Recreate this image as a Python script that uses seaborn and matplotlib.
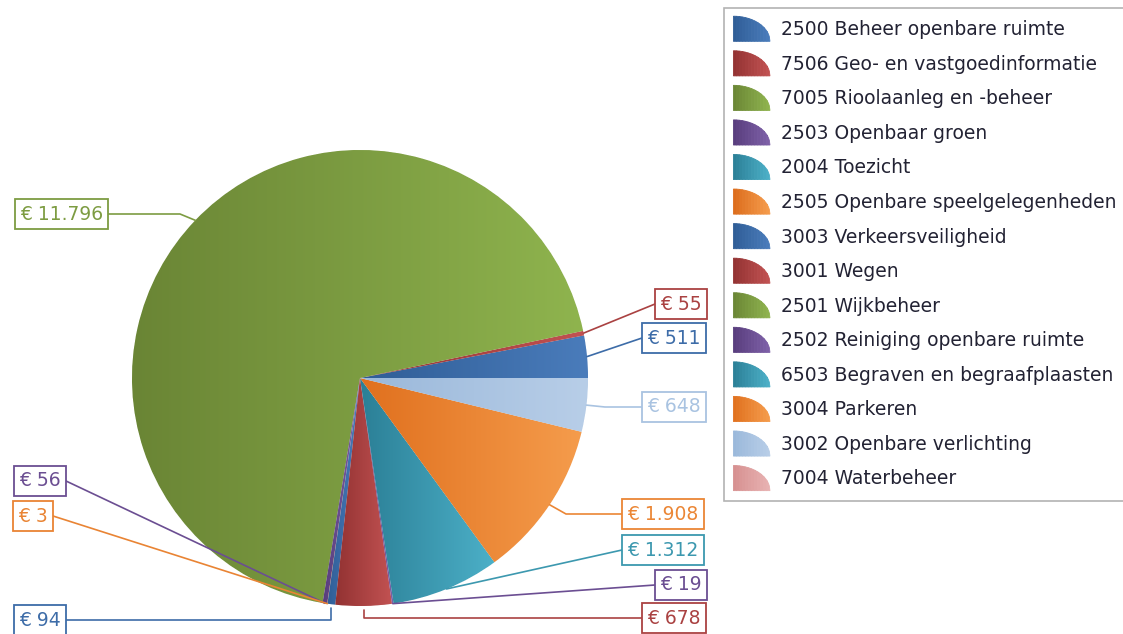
import numpy as np
import matplotlib
matplotlib.use("Agg")
import matplotlib.pyplot as plt
import matplotlib.colors as mcolors
from matplotlib.patches import Polygon
from matplotlib.legend_handler import HandlerPatch
import seaborn as sns

# Data
codes = ["2500 Beheer openbare ruimte", "7506 Geo- en vastgoedinformatie",
         "7005 Rioolaanleg en -beheer", "2503 Openbaar groen", "2004 Toezicht",
         "2505 Openbare speelgelegenheden", "3003 Verkeersveiligheid", "3001 Wegen",
         "2501 Wijkbeheer", "2502 Reiniging openbare ruimte",
         "6503 Begraven en begraafplaasten", "3004 Parkeren",
         "3002 Openbare verlichting", "7004 Waterbeheer"]
amounts = [511, 55, 11796, 56, 0, 3, 94, 678, 0, 19, 1312, 1908, 648, 0]
value_labels = ["€ 511", "€ 55", "€ 11.796", "€ 56", None, "€ 3", "€ 94", "€ 678",
                None, "€ 19", "€ 1.312", "€ 1.908", "€ 648", None]

# gradient colour pairs (left/dark, right/light)
dark = ["#2f5d96", "#923232", "#6a8535", "#583d7c", "#2b7f96", "#dc6c1c",
        "#2f5d96", "#923232", "#6a8535", "#583d7c", "#2b7f96", "#e0701e",
        "#9ab8da", "#d69090"]
light = ["#4a7cbb", "#c25252", "#8fb44e", "#7e60a8", "#4cb0c8", "#f59c4c",
         "#4a7cbb", "#c25252", "#8fb44e", "#7e60a8", "#4cb0c8", "#f59c4c",
         "#b8cee8", "#e8b2b2"]
label_colors = sns.color_palette([mcolors.to_hex((np.array(mcolors.to_rgb(d)) + np.array(mcolors.to_rgb(l))) / 2)
                                  for d, l in zip(dark, light)])

sns.set_theme(style="white")
plt.rcParams['font.family'] = ['DejaVu Sans']

FS = 13.5
W, H = 1123, 634
fig = plt.figure(figsize=(W / 100, H / 100), dpi=100)
ax = fig.add_axes([0, 0, 1, 1])

cx, cy, R = 360, H - 378, 228
wedges, _ = ax.pie(amounts, center=(cx, cy), radius=R, startangle=0, counterclock=True,
                   frame=True, wedgeprops=dict(linewidth=0.6, edgecolor="white"))
ax.set_xlim(0, W)
ax.set_ylim(0, H)
ax.set_aspect("equal")
ax.axis("off")

# horizontal gradient inside each wedge
for w, d, l in zip(wedges, dark, light):
    if w.theta2 - w.theta1 <= 0:
        w.set_visible(False)
        continue
    w.set_facecolor(d)
    ext = w.get_path().get_extents()
    cmap = mcolors.LinearSegmentedColormap.from_list("g", [d, l])
    grad = np.linspace(0, 1, 256).reshape(1, -1)
    im = ax.imshow(grad, cmap=cmap, extent=[ext.x0, ext.x1, ext.y0, ext.y1],
                   aspect="auto", zorder=w.get_zorder() + 0.1, interpolation="bilinear")
    im.set_clip_path(w)
    ax.set_xlim(0, W)
    ax.set_ylim(0, H)

# label boxes: (box edge x, y from top, side, elbow)
layout = {
    0: (642, 338, "left", None),
    1: (655, 304, "left", None),
    2: (108, 214, "right", ("h", 180)),
    3: (66, 481, "right", None),
    5: (53, 516, "right", None),
    6: (66, 620, "right", ("v",)),
    7: (642, 618, "left", ("v",)),
    9: (655, 585, "left", None),
    10: (622, 550, "left", None),
    11: (622, 514, "left", ("h", 566)),
    12: (642, 407, "left", ("h", 605)),
}

for i, txt in enumerate(value_labels):
    if txt is None:
        continue
    bx, by, side, elbow = layout[i]
    by = H - by
    w = wedges[i]
    mid = np.deg2rad((w.theta1 + w.theta2) / 2)
    axp, ayp = cx + R * np.cos(mid), cy + R * np.sin(mid)
    col = label_colors[i]
    if elbow is None:
        xs, ys = [bx, axp], [by, ayp]
    elif elbow[0] == "h":
        xs, ys = [bx, elbow[1], axp], [by, by, ayp]
    else:
        xs, ys = [bx, axp, axp], [by, by, ayp - 4]
    ax.plot(xs, ys, color=col, lw=1.2, zorder=5)
    ha = "left" if side == "left" else "right"
    ax.text(bx + (5 if side == "left" else -5), by, txt, ha=ha, va="center",
            fontsize=FS, color=col, zorder=6,
            bbox=dict(boxstyle="square,pad=0.28", fc="white", ec=col, lw=1.3))


class WedgeHandler(HandlerPatch):
    def create_artists(self, legend, orig_handle, xdescent, ydescent, width, height, fontsize, trans):
        d, l = orig_handle.get_label().split("|")
        arts = []
        n = 12
        cmap = mcolors.LinearSegmentedColormap.from_list("g", [d, l])
        x0, y0 = -xdescent - 2, -ydescent - 3
        hh = height + 6
        for k in range(n):
            t0, t1 = k / n, (k + 1) / n
            ts = np.linspace(t0, t1, 6)
            top = [(x0 + t * width, y0 + hh * np.sqrt(max(0, 1 - t ** 2))) for t in ts]
            pts = [(x0 + t0 * width, y0)] + top + [(x0 + t1 * width, y0)]
            c = cmap((t0 + t1) / 2)
            p = Polygon(pts, closed=True, fc=c, ec=c, lw=0.6, transform=trans)
            arts.append(p)
        return arts


handles = [Polygon([[0, 0]], label=f"{d}|{l}") for d, l in zip(dark, light)]
leg = fig.legend(handles, codes, loc="upper left", bbox_to_anchor=(724 / W, 1 - 8 / H),
                 borderaxespad=0, fontsize=FS, frameon=True, fancybox=False,
                 handlelength=1.95, handleheight=1.0, handletextpad=0.45,
                 labelspacing=0.83, borderpad=0.65,
                 handler_map={Polygon: WedgeHandler()})
leg.get_frame().set_edgecolor("#a0a0a0")
leg.get_frame().set_linewidth(1.2)
for t in leg.get_texts():
    t.set_color("#222233")

fig.savefig("out.png", dpi=100)
